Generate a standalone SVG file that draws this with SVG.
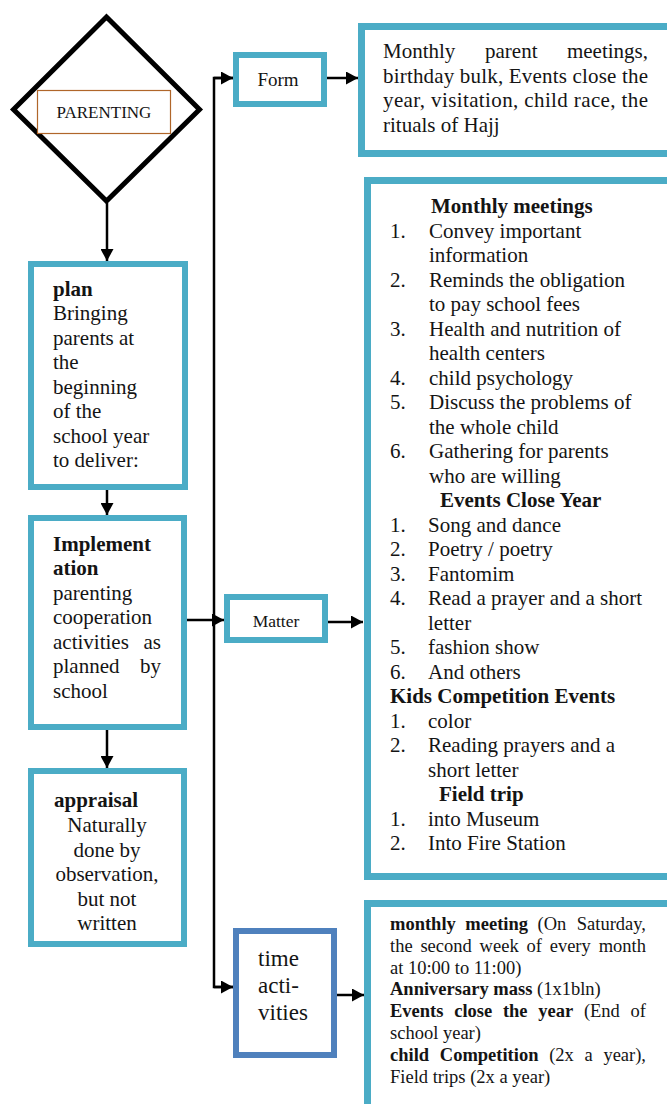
<svg xmlns="http://www.w3.org/2000/svg" width="667" height="1104" viewBox="0 0 667 1104">
<defs>
<style>
text{font-family:"Liberation Serif","Times New Roman",serif;fill:#141414;}
.t21{font-size:21px;}
.t18{font-size:18.5px;}
.b{font-weight:bold;}
.box{fill:#fff;stroke:#4bacc6;stroke-width:6;}
.boxw{fill:#fff;stroke:#4bacc6;stroke-width:7;}
.box2{fill:#fff;stroke:#4f81bd;stroke-width:6;}
.con{fill:none;stroke:#000;stroke-width:2.5;}
.mid{text-anchor:middle;}
.end{text-anchor:end;}
</style>
<marker id="ah" viewBox="0 0 12 13" refX="12" refY="6.5" markerWidth="12" markerHeight="13" markerUnits="userSpaceOnUse" orient="auto">
<path d="M0,0 L12,6.5 L0,13 Z" fill="#000"/>
</marker>
</defs>

<g id="connectors">
<line class="con" x1="107" y1="203" x2="107" y2="261" marker-end="url(#ah)"/>
<line class="con" x1="107" y1="490" x2="107" y2="515" marker-end="url(#ah)"/>
<line class="con" x1="107" y1="730" x2="107" y2="768" marker-end="url(#ah)"/>
<polyline class="con" points="233,78 214,78 214,987 233,987"/>
<line class="con" x1="214" y1="78" x2="233" y2="78" marker-end="url(#ah)"/>
<line class="con" x1="214" y1="987" x2="233" y2="987" marker-end="url(#ah)"/>
<line class="con" x1="327" y1="78" x2="358" y2="78" marker-end="url(#ah)"/>
<line class="con" x1="187" y1="620" x2="224" y2="620" marker-end="url(#ah)"/>
<line class="con" x1="328" y1="622" x2="363" y2="622" marker-end="url(#ah)"/>
<line class="con" x1="337" y1="995" x2="364" y2="995" marker-end="url(#ah)"/>
</g>

<g id="parenting">
<path d="M106.5,17 L199.5,109.5 L106.5,201 L13.5,109.5 Z" fill="#fff" stroke="#000" stroke-width="5"/>
<rect x="37.5" y="90.5" width="133" height="43" fill="#fff" stroke="#b0662a" stroke-width="1.2"/>
<text x="104" y="118" class="mid" style="font-size:17px">PARENTING</text>
</g>

<g id="plan">
<rect class="box" x="31" y="264" width="154" height="223"/>
<text class="t21" x="53" y="296"><tspan class="b">plan</tspan></text>
<text class="t21" x="53" y="320">Bringing</text>
<text class="t21" x="53" y="345">parents at</text>
<text class="t21" x="53" y="369">the</text>
<text class="t21" x="53" y="394">beginning</text>
<text class="t21" x="53" y="418">of the</text>
<text class="t21" x="53" y="443">school year</text>
<text class="t21" x="53" y="467">to deliver:</text>
</g>

<g id="implementation">
<rect class="box" x="31" y="518" width="153" height="209"/>
<text class="t21 b" x="53" y="551">Implement</text>
<text class="t21 b" x="53" y="575">ation</text>
<text class="t21" x="53" y="600">parenting</text>
<text class="t21" x="53" y="624">cooperation</text>
<text class="t21" x="53" y="649">activities</text>
<text class="t21 end" x="161" y="649">as</text>
<text class="t21" x="53" y="673">planned</text>
<text class="t21 end" x="161" y="673">by</text>
<text class="t21" x="53" y="698">school</text>
</g>

<g id="appraisal">
<rect class="box" x="31" y="771" width="153" height="173"/>
<text class="t21 b" x="54" y="807">appraisal</text>
<text class="t21 mid" x="107" y="832">Naturally</text>
<text class="t21 mid" x="107" y="857">done by</text>
<text class="t21 mid" x="107" y="881">observation,</text>
<text class="t21 mid" x="107" y="906">but not</text>
<text class="t21 mid" x="107" y="930">written</text>
</g>

<g id="form">
<rect class="box" x="236" y="55" width="88" height="49"/>
<text x="278" y="86" class="mid" style="font-size:19px">Form</text>
</g>

<g id="matter">
<rect class="box" x="227" y="597" width="98" height="43"/>
<text x="276" y="627" class="mid" style="font-size:17.5px">Matter</text>
</g>

<g id="time-activities">
<rect class="box2" x="236" y="931" width="98" height="124"/>
<text x="258" y="966" style="font-size:23px">time</text>
<text x="258" y="993" style="font-size:23px">acti-</text>
<text x="258" y="1020" style="font-size:23px">vities</text>
</g>

<g id="form-detail">
<rect class="boxw" x="361.5" y="26.5" width="330" height="127"/>
<text class="t21" x="383" y="58">Monthly</text>
<text class="t21" x="485" y="58">parent</text>
<text class="t21 end" x="648" y="58">meetings,</text>
<text class="t21" x="383" y="82.5" textLength="265" lengthAdjust="spacing">birthday bulk, Events close the</text>
<text class="t21" x="383" y="107" textLength="265" lengthAdjust="spacing">year, visitation, child race, the</text>
<text class="t21" x="383" y="131.5">rituals of Hajj</text>
</g>

<g id="matter-detail">
<rect class="boxw" x="367.5" y="180.5" width="330" height="696"/>
<text class="t21 b" x="431" y="213">Monthly meetings</text>
<text class="t21" x="390" y="237.5">1.</text><text class="t21" x="429" y="237.5">Convey important</text>
<text class="t21" x="429" y="262">information</text>
<text class="t21" x="390" y="286.5">2.</text><text class="t21" x="429" y="286.5">Reminds the obligation</text>
<text class="t21" x="429" y="311">to pay school fees</text>
<text class="t21" x="390" y="335.5">3.</text><text class="t21" x="429" y="335.5">Health and nutrition of</text>
<text class="t21" x="429" y="360">health centers</text>
<text class="t21" x="390" y="384.5">4.</text><text class="t21" x="429" y="384.5">child psychology</text>
<text class="t21" x="390" y="409">5.</text><text class="t21" x="429" y="409">Discuss the problems of</text>
<text class="t21" x="429" y="433.5">the whole child</text>
<text class="t21" x="390" y="458">6.</text><text class="t21" x="429" y="458">Gathering for parents</text>
<text class="t21" x="429" y="482.5">who are willing</text>
<text class="t21 b" x="440" y="507">Events Close Year</text>
<text class="t21" x="390" y="531.5">1.</text><text class="t21" x="428" y="531.5">Song and dance</text>
<text class="t21" x="390" y="556">2.</text><text class="t21" x="428" y="556">Poetry / poetry</text>
<text class="t21" x="390" y="580.5">3.</text><text class="t21" x="428" y="580.5">Fantomim</text>
<text class="t21" x="390" y="605">4.</text><text class="t21" x="428" y="605">Read a prayer and a short</text>
<text class="t21" x="428" y="629.5">letter</text>
<text class="t21" x="390" y="654">5.</text><text class="t21" x="428" y="654">fashion show</text>
<text class="t21" x="390" y="678.5">6.</text><text class="t21" x="428" y="678.5">And others</text>
<text class="t21 b" x="390" y="703">Kids Competition Events</text>
<text class="t21" x="390" y="727.5">1.</text><text class="t21" x="428" y="727.5">color</text>
<text class="t21" x="390" y="752">2.</text><text class="t21" x="428" y="752">Reading prayers and a</text>
<text class="t21" x="428" y="776.5">short letter</text>
<text class="t21 b" x="439" y="801">Field trip</text>
<text class="t21" x="390" y="825.5">1.</text><text class="t21" x="428" y="825.5">into Museum</text>
<text class="t21" x="390" y="850">2.</text><text class="t21" x="428" y="850">Into Fire Station</text>
</g>

<g id="time-detail">
<rect class="boxw" x="367.5" y="903.5" width="330" height="250"/>
<text class="t18 b" x="390" y="930">monthly</text>
<text class="t18 b" x="465.3" y="930">meeting</text>
<text class="t18" x="537.5" y="930">(On</text>
<text class="t18 end" x="646" y="930">Saturday,</text>
<text class="t18" x="390" y="951.8">the</text>
<text class="t18" x="420.4" y="951.8">second</text>
<text class="t18" x="479.6" y="951.8">week</text>
<text class="t18" x="526.5" y="951.8">of</text>
<text class="t18" x="549.7" y="951.8">every</text>
<text class="t18 end" x="646" y="951.8">month</text>
<text class="t18" x="390" y="973.6">at 10:00 to 11:00)</text>
<text class="t18" x="390" y="995.4"><tspan class="b">Anniversary mass</tspan> (1x1bln)</text>
<text class="t18 b" x="390" y="1017.2">Events</text>
<text class="t18 b" x="454.2" y="1017.2">close</text>
<text class="t18 b" x="502.9" y="1017.2">the</text>
<text class="t18 b" x="538.3" y="1017.2">year</text>
<text class="t18" x="583.9" y="1017.2">(End</text>
<text class="t18 end" x="646" y="1017.2">of</text>
<text class="t18" x="390" y="1039">school year)</text>
<text class="t18 b" x="390" y="1060.8">child</text>
<text class="t18 b" x="439.8" y="1060.8">Competition</text>
<text class="t18" x="549.2" y="1060.8">(2x</text>
<text class="t18" x="584.6" y="1060.8">a</text>
<text class="t18 end" x="646" y="1060.8">year),</text>
<text class="t18" x="390" y="1082.6">Field trips (2x a year)</text>
</g>
</svg>
